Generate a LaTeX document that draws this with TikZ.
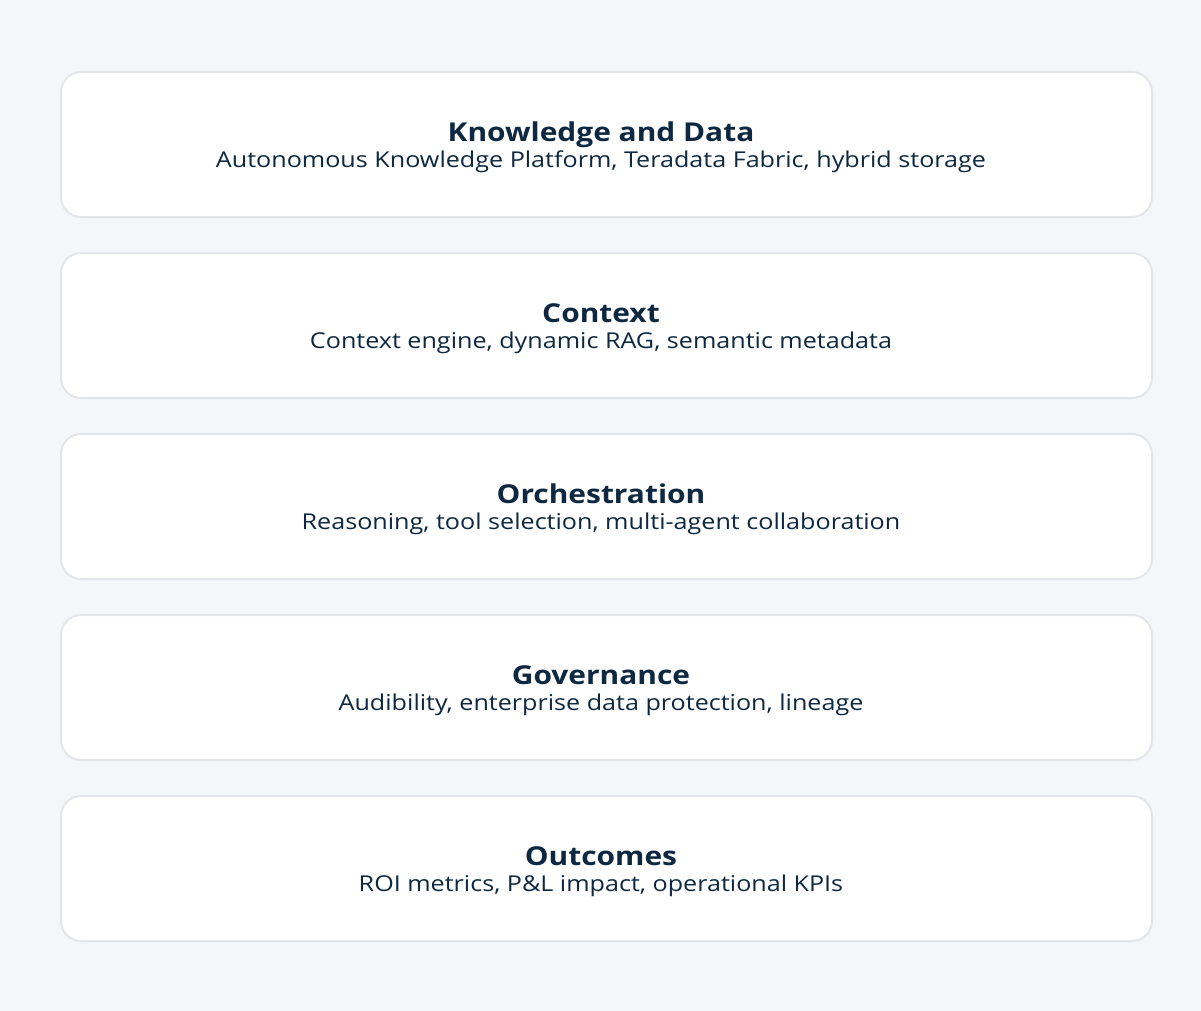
\documentclass[tikz,border=0pt]{standalone}
\usepackage{fontspec}
\setmainfont{Open Sans}[FakeStretch=1.15]
\usetikzlibrary{calc}
\definecolor{bgc}{HTML}{F5F6FA}
\definecolor{edgec}{HTML}{E2E5EA}
\definecolor{txtc}{HTML}{0D2840}
\begin{document}
\begin{tikzpicture}[x=1pt,y=-1pt,
  layer/.style={draw=edgec,line width=2pt,fill=white,rounded corners=20pt,
    minimum width=1091pt,minimum height=145pt,inner sep=0pt,anchor=north west},
  ttl/.style={text=txtc,font=\fontsize{26}{30}\selectfont\bfseries,inner sep=0pt,anchor=base},
  sub/.style={text=txtc,font=\fontsize{21.85}{26}\selectfont,inner sep=0pt,anchor=base}]
\fill[bgc] (0,0) rectangle (1201,1011);
\useasboundingbox (0,0) rectangle (1201,1011);
\foreach \i/\t/\s in {1/Knowledge and Data/{Autonomous Knowledge Platform, Teradata Fabric, hybrid storage},
  2/Context/{Context engine, dynamic RAG, semantic metadata},
  3/Orchestration/{Reasoning, tool selection, multi-agent collaboration},
  4/Governance/{Audibility, enterprise data protection, lineage},
  5/Outcomes/{ROI metrics, P\&L impact, operational KPIs}}{
  \pgfmathsetmacro{\yy}{71+(\i-1)*181}
  \node[layer] (box\i) at (60,\yy) {};
  \node[ttl] (title\i) at ($(601,0)!(box\i.center)!(601,1)+(0,-3.3)$) {\t};
  \node[sub] (sub\i) at ($(601,0)!(box\i.center)!(601,1)+(0,23)$) {\s};
}
\end{tikzpicture}
\end{document}
